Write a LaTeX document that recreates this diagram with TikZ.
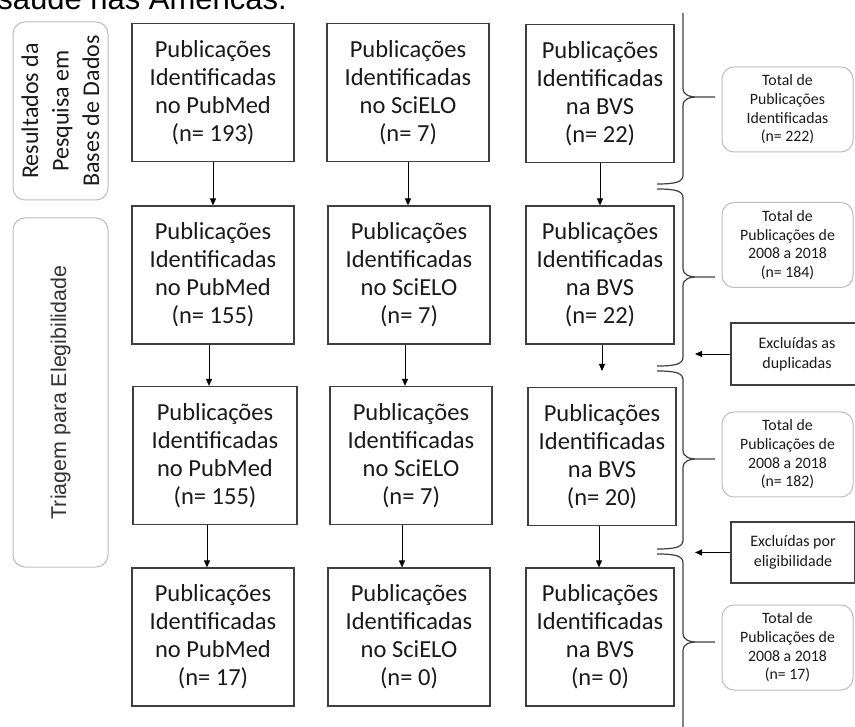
\documentclass[tikz,border=0pt]{standalone}
\usepackage{fontspec}
\setmainfont{Carlito}
\newfontfamily\arialfont{Liberation Sans}
\usetikzlibrary{arrows.meta}
\definecolor{boxline}{HTML}{3F3F3F}
\definecolor{softline}{HTML}{BDBDBD}
\definecolor{txt}{HTML}{1A1A1A}
\begin{document}
\begin{tikzpicture}[x=1pt,y=-1pt,
  pbox/.style={draw=boxline, line width=1.2pt, minimum width=162pt, minimum height=138pt, inner sep=0pt, align=center, text=txt, font=\fontsize{24.5}{28}\selectfont},
  nbox/.style={pbox, minimum width=148pt},
  soft/.style={draw=softline, line width=1pt, rounded corners=12pt, inner sep=0pt, align=center, text=txt},
  tbox/.style={soft, minimum width=131pt, minimum height=85pt, font=\fontsize{15.8}{18.7}\selectfont},
  xbox/.style={draw=boxline, line width=1.2pt, minimum width=132pt, minimum height=62pt, inner sep=0pt, align=center, text=txt, font=\fontsize{16}{20}\selectfont},
  arr/.style={-{Triangle[length=7pt,width=6pt]}, draw=black, line width=0.9pt},
  bracepath/.style={draw=boxline, line width=1.2pt}]
\useasboundingbox (0,0) rectangle (855,727);
\clip (0,0) rectangle (855,727);
\fill[white] (0,0) rectangle (855,727);

% cut-off heading
\node[anchor=base east, inner sep=0pt, font=\arialfont\fontsize{31}{31}\selectfont] (title) at (287,10) {saúde nas Américas.};

% left stage boxes
\node[soft, rotate=90, minimum width=178pt, minimum height=95pt, font=\fontsize{24}{30.5}\selectfont] (L1) at (60.5,111) {Resultados da\\Pesquisa em\\Bases de Dados};
\node[soft, rotate=90, minimum width=349pt, minimum height=95pt, font=\arialfont\fontsize{21.4}{24}\selectfont, text=black!80] (L2) at (60.5,392.5) {Triagem para Elegibilidade};

% main boxes
\node[pbox] (b11) at (213,92.5) {Publicações\\Identificadas\\no PubMed\\(n= 193)};
\node[pbox] (b12) at (408,92.5) {Publicações\\Identificadas\\no SciELO\\(n= 7)};
\node[nbox] (b13) at (600,93.5) {Publicações\\Identificadas\\na BVS\\(n= 22)};

\node[pbox] (b21) at (213,275) {Publicações\\Identificadas\\no PubMed\\(n= 155)};
\node[pbox] (b22) at (409,275) {Publicações\\Identificadas\\no SciELO\\(n= 7)};
\node[nbox] (b23) at (600,275) {Publicações\\Identificadas\\na BVS\\(n= 22)};

\node[pbox, minimum width=164pt] (b31) at (215,455.5) {Publicações\\Identificadas\\no PubMed\\(n= 155)};
\node[pbox] (b32) at (411,455.5) {Publicações\\Identificadas\\no SciELO\\(n= 7)};
\node[nbox] (b33) at (602,456.5) {Publicações\\Identificadas\\na BVS\\(n= 20)};

\node[pbox] (b41) at (213,637) {Publicações\\Identificadas\\no PubMed\\(n= 17)};
\node[pbox] (b42) at (409,637) {Publicações\\Identificadas\\no SciELO\\(n= 0)};
\node[nbox] (b43) at (600,637) {Publicações\\Identificadas\\na BVS\\(n= 0)};

% vertical arrows
\draw[arr] (b11.south) -- (b11.south |- b21.north);
\draw[arr] (b12.south) -- (b12.south |- b22.north);
\draw[arr] (b13.south) -- (b13.south |- b23.north);
\draw[arr] ([xshift=-4pt]b21.south) -- ([xshift=-4pt]b21.south |- b31.north);
\draw[arr] ([xshift=-4pt]b22.south) -- ([xshift=-4pt]b22.south |- b32.north);
\coordinate (gap3) at (602,371);
\draw[arr] ([xshift=2pt]b23.south) -- ([xshift=2pt]b23.south |- gap3);
\draw[arr] ([xshift=-8pt]b31.south) -- ([xshift=-8pt]b31.south |- b41.north);
\draw[arr] ([xshift=-9pt]b32.south) -- ([xshift=-9pt]b32.south |- b42.north);
\draw[arr] ([xshift=-3pt]b33.south) -- ([xshift=-3pt]b33.south |- b43.north);

% braces
\draw[bracepath] (683,13) -- (683,88) .. controls (683,95) and (689,97) .. (698,97) -- (715,97)
  (698,97) .. controls (689,97) and (683,99) .. (683,106) -- (683,175) .. controls (683,182) and (676,184) .. (657,184);
\draw[bracepath] (657,189) .. controls (676,189) and (683,191) .. (683,198) -- (683,268) .. controls (683,275) and (689,277) .. (698,277) -- (715,277)
  (698,277) .. controls (689,277) and (683,279) .. (683,286) -- (683,357) .. controls (683,364) and (676,366) .. (657,366);
\draw[bracepath] (657,371) .. controls (676,371) and (683,373) .. (683,380) -- (683,450) .. controls (683,457) and (689,459) .. (698,459) -- (715,459)
  (698,459) .. controls (689,459) and (683,461) .. (683,468) -- (683,540) .. controls (683,547) and (676,549) .. (657,549);
\draw[bracepath] (657,554) .. controls (676,554) and (683,556) .. (683,563) -- (683,633) .. controls (683,640) and (689,642) .. (698,642) -- (715,642)
  (698,642) .. controls (689,642) and (683,644) .. (683,651) -- (683,740);

% total boxes
\node[tbox] (t1) at (787.5,109.5) {Total de\\Publicações\\Identificadas\\(n= 222)};
\node[tbox] (t2) at (787.5,245) {Total de\\Publicações de\\2008 a 2018\\(n= 184)};
\node[tbox] (t3) at (787.5,454.5) {Total de\\Publicações de\\2008 a 2018\\(n= 182)};
\node[tbox] (t4) at (787.5,647.5) {Total de\\Publicações de\\2008 a 2018\\(n= 17)};

% exclusion boxes
\node[xbox] (e1) at (797,354) {Excluídas as\\duplicadas};
\node[xbox, minimum width=124pt, minimum height=61pt] (e2) at (793,552.5) {Excluídas por\\eligibilidade};
\coordinate (p1) at (695,353);
\coordinate (p2) at (695,553);
\draw[arr] (e1.west) -- (e1.west -| p1);
\draw[arr] (e2.west) -- (e2.west -| p2);
\end{tikzpicture}
\end{document}
